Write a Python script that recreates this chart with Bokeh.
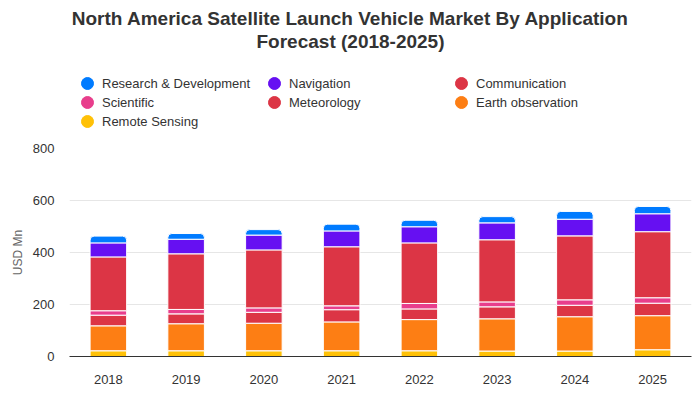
from bokeh.plotting import figure
from bokeh.layouts import column
from bokeh.models import ColumnDataSource, Legend, LegendItem, Label, FixedTicker
from bokeh.embed import file_html
from bokeh.resources import INLINE

years = ["2018", "2019", "2020", "2021", "2022", "2023", "2024", "2025"]
remote_sensing = [22, 22, 22, 22, 22, 21, 21, 26]
earth_observation = [96, 104, 106, 111, 120, 124, 132, 131]
meteorology = [41, 38, 42, 47, 41, 46, 44, 48]
scientific = [17, 17, 17, 15, 21, 19, 21, 21]
communication = [207, 214, 223, 227, 233, 239, 246, 254]
navigation = [54, 56, 57, 61, 62, 65, 64, 69]
research_development = [26, 22, 21, 26, 25, 24, 30, 28]

series_names = ["Remote Sensing", "Earth observation", "Meteorology", "Scientific",
                "Communication", "Navigation", "Research & Development"]
series_values = [remote_sensing, earth_observation, meteorology, scientific,
                 communication, navigation, research_development]
colors = ["#ffc107", "#fd7e14", "#dc3545", "#e83e8c", "#dc3545", "#6610f2", "#007bff"]

title_lines = ["North America Satellite Launch Vehicle Market By Application", "Forecast (2018-2025)"]

data = {"year": years}
for n, v in zip(series_names, series_values):
    data[n] = v
source = ColumnDataSource(data)

FONT = "Liberation Sans"

# ---------------- header: title + legend ----------------
head = figure(width=700, height=140, x_range=(0, 1), y_range=(0, 1),
              output_backend="svg", toolbar_location=None,
              x_axis_location=None, y_axis_location=None, min_border=0)
head.outline_line_color = None
head.grid.visible = False

for line, sy in zip(title_lines, [122, 99]):
    head.add_layout(Label(x=281, y=sy, x_units="screen", y_units="screen", text=line,
                          text_align="center", text_baseline="alphabetic",
                          text_font=FONT, text_font_size="19px", text_font_style="bold",
                          text_color="#333333"))

# legend swatches: one point per series (its total), which lies outside the header's
# 0..1 ranges, so only the legend glyph is visible
legend_rows = [[6, 5, 4], [3, 2, 1], [0]]
row_bottoms = [42, 23, 4]
for row, yb in zip(legend_rows, row_bottoms):
    items = []
    for i in row:
        total = sum(series_values[i])
        r = head.scatter(x=[total], y=[total], marker="circle", size=12,
                         fill_color=colors[i], line_color=colors[i])
        items.append(LegendItem(label=series_names[i], renderers=[r]))
    head.add_layout(Legend(items=items, orientation="horizontal", location=(3, yb),
                           glyph_width=30, glyph_height=30, spacing=0, padding=0, margin=0,
                           label_standoff=0, label_width=157,
                           label_text_font=FONT, label_text_font_size="13px",
                           label_text_color="#333333",
                           border_line_color=None, background_fill_alpha=0), "center")

# ---------------- chart ----------------
p = figure(x_range=years, y_range=(0, 800), width=700, height=260,
           output_backend="svg", toolbar_location=None, title=None,
           min_border_left=69, min_border_right=9, min_border_bottom=44, min_border_top=8)

rs = p.vbar_stack(series_names, x="year", width=0.47, source=source, color=colors,
                  line_color="white", line_width=1)
rs[-1].glyph.border_radius = (4, 4, 0, 0)

p.outline_line_color = None
p.xgrid.grid_line_color = None
p.ygrid.grid_line_color = "#e6e6e6"

p.yaxis.ticker = FixedTicker(ticks=[0, 200, 400, 600, 800])
p.yaxis.axis_line_color = None
p.yaxis.major_tick_line_color = None
p.yaxis.minor_tick_line_color = None
p.yaxis.major_tick_out = 0
p.yaxis.major_tick_in = 0
p.yaxis.major_label_standoff = 15
p.yaxis.major_label_text_font = FONT
p.yaxis.major_label_text_font_size = "13px"
p.yaxis.major_label_text_color = "#333333"
p.yaxis.axis_label = "USD Mn"
p.yaxis.axis_label_text_font = FONT
p.yaxis.axis_label_text_font_size = "12px"
p.yaxis.axis_label_text_font_style = "normal"
p.yaxis.axis_label_text_color = "#666666"
p.yaxis.axis_label_standoff = 5

p.xaxis.axis_line_color = "#333333"
p.xaxis.axis_line_width = 1
p.xaxis.major_tick_line_color = None
p.xaxis.minor_tick_line_color = None
p.xaxis.major_tick_out = 0
p.xaxis.major_tick_in = 0
p.xaxis.major_label_standoff = 18
p.xaxis.major_label_text_font = FONT
p.xaxis.major_label_text_font_size = "13px"
p.xaxis.major_label_text_color = "#333333"

layout = column(head, p, spacing=0)
open("out.html", "w").write(file_html(layout, INLINE))
